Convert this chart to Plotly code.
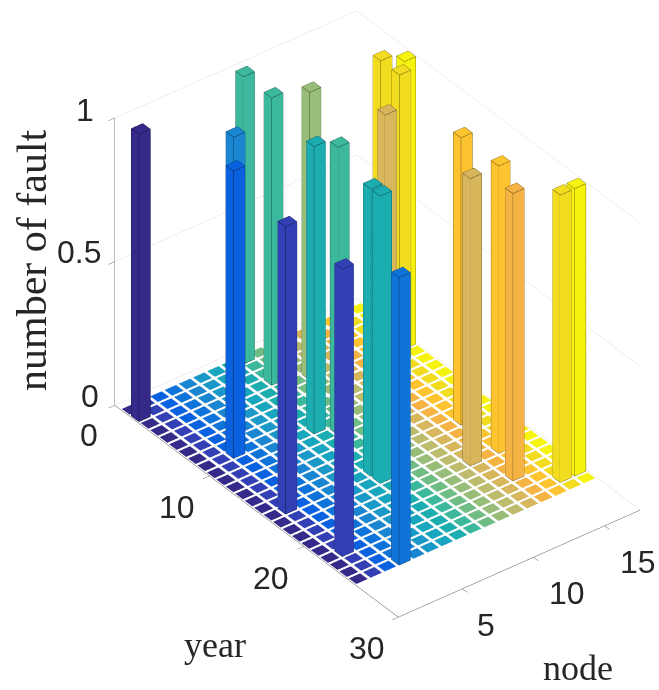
import plotly.graph_objects as go

nodes = list(range(1, 18))
years = list(range(1, 26))
fault_node = [1, 5, 3, 9, 9, 11, 8, 9, 2, 2, 8, 8, 4, 16, 17, 16, 13, 15, 13, 15, 14, 16, 17]
fault_year = [2, 6, 9, 1, 4, 5, 10, 11, 16, 22, 16, 17, 25, 5, 6, 7, 10, 15, 19, 19, 22, 24, 24]
fault_value = [1] * len(fault_node)
node_colors = ["#35298a", "#323fb5", "#0a62e0", "#0f74da", "#1a86d2", "#1a98c8", "#17a6bd", "#1cadb0",
               "#3cb89c", "#70bc85", "#98bd78", "#bdbb6c", "#d8b65c", "#f4b342", "#fdc430", "#f2dc20", "#f7f310"]
z_ticks = [0, 0.5, 1]
year_ticks = [0, 10, 20, 30]
node_ticks = [5, 10, 15]

W = 0.4
value_at = {(n, y): v for n, y, v in zip(fault_node, fault_year, fault_value)}


def darken(hex_color, f=0.45):
    r, g, b = [int(hex_color[i:i + 2], 16) for i in (1, 3, 5)]
    return f"rgb({int(r*f)},{int(g*f)},{int(b*f)})"


X, Y, Z, I, J, K, FC = [], [], [], [], [], [], []
line_traces = []
for n, col in zip(nodes, node_colors):
    lx, ly, lz = [], [], []
    for y in years:
        h = value_at.get((n, y), 0)
        base = len(X)
        x0, x1, y0, y1 = n - W, n + W, y - W, y + W
        for zz in (0, h):
            X += [x0, x1, x1, x0]
            Y += [y0, y0, y1, y1]
            Z += [zz] * 4
        quads = [(4, 5, 6, 7)]
        if h > 0:
            quads += [(0, 1, 5, 4), (1, 2, 6, 5), (2, 3, 7, 6), (3, 0, 4, 7)]
            for a, b in [(0, 1), (1, 2), (2, 3), (3, 0)]:
                ax, ay = [(x0, y0), (x1, y0), (x1, y1), (x0, y1)][a]
                bx, by = [(x0, y0), (x1, y0), (x1, y1), (x0, y1)][b]
                lx += [ax, bx, None, ax, bx, None, ax, ax, None]
                ly += [ay, by, None, ay, by, None, ay, ay, None]
                lz += [h, h, None, 0, 0, None, 0, h, None]
        for q in quads:
            I += [base + q[0], base + q[0]]
            J += [base + q[1], base + q[2]]
            K += [base + q[2], base + q[3]]
            FC += [col, col]
    if lx:
        line_traces.append(go.Scatter3d(x=lx, y=ly, z=lz, mode="lines",
                                        line=dict(color=darken(col), width=1.2),
                                        hoverinfo="skip", showlegend=False))

mesh = go.Mesh3d(x=X, y=Y, z=Z, i=I, j=J, k=K, facecolor=FC, flatshading=True,
                 lighting=dict(ambient=1, diffuse=0, specular=0, fresnel=0, roughness=1),
                 hoverinfo="skip", showscale=False)

fig = go.Figure([mesh] + line_traces)

axis_common = dict(showbackground=False, showspikes=False, title=dict(text=""), zeroline=False,
                   showticklabels=False, showline=True, linecolor="#555555", linewidth=1,
                   ticks="outside", ticklen=8, tickcolor="#666666")
d = 1.95
s = 1.13
fig.update_layout(
    width=659, height=690, margin=dict(l=0, r=0, t=0, b=0), paper_bgcolor="white", showlegend=False,
    scene=dict(
        domain=dict(x=[0.146, 1.0], y=[0.09, 1.0]),
        aspectmode="manual", aspectratio=dict(x=0.86 * s, y=1.31 * s, z=0.99 * s),
        camera=dict(projection=dict(type="orthographic"),
                    eye=dict(x=-0.499 * d, y=-0.648 * d, z=0.575 * d),
                    center=dict(x=0, y=0, z=0), up=dict(x=0, y=0, z=1)),
        xaxis=dict(range=[0.5, 17.5], tickvals=node_ticks, showgrid=False, **axis_common),
        yaxis=dict(range=[30, 0], tickvals=year_ticks, showgrid=False, **axis_common),
        zaxis=dict(range=[0, 1], tickvals=z_ticks, showgrid=True, gridcolor="#dddddd", gridwidth=1, **axis_common),
    ),
)

TICK = dict(family="Liberation Sans", size=32, color="#262626")
SERIF = dict(family="Liberation Serif", size=36, color="#262626")


def label(text, px, py, font, angle=0):
    fig.add_annotation(text=str(text), x=px / 659, y=1 - py / 690, xref="paper", yref="paper",
                       xanchor="center", yanchor="middle", showarrow=False, textangle=angle, font=font)


for t, p in zip(z_ticks, [(90, 396), (79, 252), (85, 110)]):
    label(t, p[0], p[1], TICK)
for t, p in zip(year_ticks, [(89, 435), (177, 507), (271, 578), (367, 648)]):
    label(t, p[0], p[1], TICK)
for t, p in zip(node_ticks, [(486, 625), (567, 593), (638, 562)]):
    label(t, p[0], p[1], TICK)
label("number of fault", 32, 260, dict(family="Liberation Serif", size=42, color="#262626"), angle=-90)
label("year", 215, 645, SERIF)
label("node", 578, 668, SERIF)

fig.write_html("out.html", config=dict(displayModeBar=False), post_script="document.body.style.margin='0';")
